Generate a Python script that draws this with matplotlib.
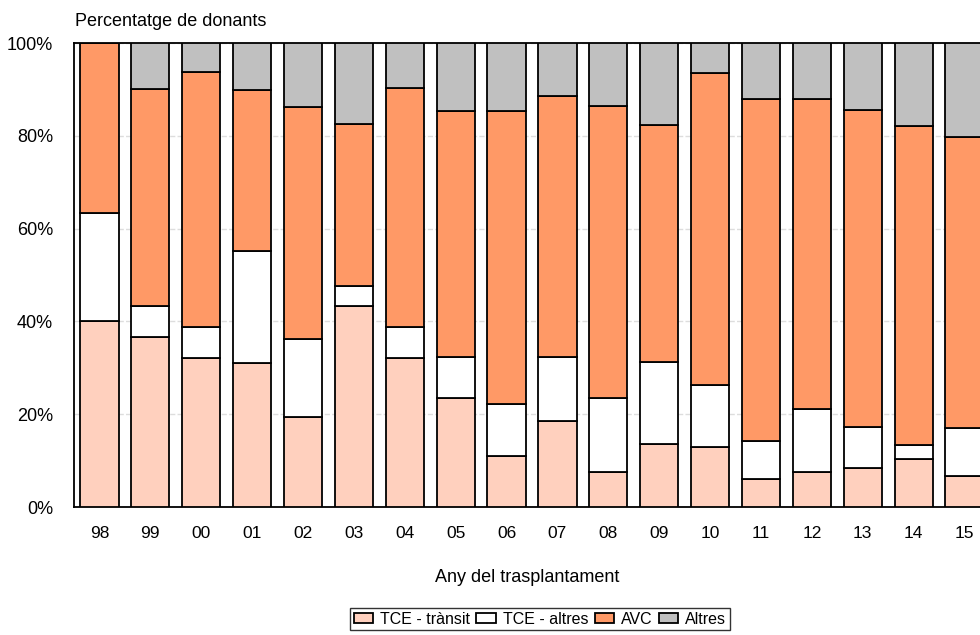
import numpy as np
import matplotlib
matplotlib.use("Agg")
import matplotlib.pyplot as plt

plt.rcParams['font.family'] = ['Liberation Sans', 'DejaVu Sans']

# Data (percentages)
years = ["98", "99", "00", "01", "02", "03", "04", "05", "06", "07", "08",
         "09", "10", "11", "12", "13", "14", "15"]
tce_transit = [40.0, 36.7, 32.1, 31.0, 19.4, 43.4, 32.1, 23.5, 11.0, 18.5, 7.6,
               13.6, 13.0, 6.0, 7.5, 8.5, 10.4, 6.7]
tce_altres = [23.4, 6.6, 6.7, 24.2, 16.7, 4.3, 6.6, 8.8, 11.2, 13.9, 15.9,
              17.7, 13.2, 8.2, 13.6, 8.8, 2.9, 10.3]
avc = [36.6, 46.7, 54.9, 34.6, 50.0, 34.9, 51.7, 53.1, 63.1, 56.1, 62.9,
       51.1, 67.3, 73.7, 66.9, 68.2, 68.9, 62.7]
altres = [0.0, 10.0, 6.3, 10.2, 13.9, 17.4, 9.6, 14.6, 14.7, 11.5, 13.6,
          17.6, 6.5, 12.1, 12.0, 14.5, 17.8, 20.3]

series = [("TCE - trànsit", tce_transit, "#FFD0BE"),
          ("TCE - altres", tce_altres, "#FFFFFF"),
          ("AVC", avc, "#FF9966"),
          ("Altres", altres, "#C0C0C0")]

fig = plt.figure(figsize=(9.8, 6.35), dpi=100)
ax = fig.add_axes([74 / 980, 128 / 635, 916 / 980, 464 / 635])

x = np.arange(len(years))
bottom = np.zeros(len(years))
for label, vals, color in series:
    vals = np.array(vals)
    ax.bar(x, vals, bottom=bottom, width=0.75, color=color,
           edgecolor="black", linewidth=1.3, label=label, zorder=3)
    bottom += vals

ax.set_xlim(-0.5, len(years) - 0.5)
ax.set_ylim(0, 100)
ax.set_yticks([0, 20, 40, 60, 80, 100])
ax.set_yticklabels(["0%", "20%", "40%", "60%", "80%", "100%"])
ax.set_xticks(x)
ax.set_xticklabels(years)
ax.tick_params(axis="both", length=0)
ax.tick_params(axis="y", pad=15, labelsize=13)
ax.tick_params(axis="x", pad=14, labelsize=12.5)

ax.yaxis.grid(True, color="#DDDDDD", linestyle="--", linewidth=1, zorder=0)
for s in ax.spines.values():
    s.set_color("black")
    s.set_linewidth(1.3)

fig.text(75 / 980, 1 - 22 / 635, "Percentatge de donants", fontsize=13,
         ha="left", va="center")
fig.text(527 / 980, 1 - 578 / 635, "Any del trasplantament", fontsize=13,
         ha="center", va="center")

leg = fig.legend(loc="center", bbox_to_anchor=(540 / 980, 1 - 619 / 635),
                 ncol=4, fontsize=11.5, frameon=True, fancybox=False,
                 edgecolor="black", handlelength=1.2, handleheight=0.65,
                 handletextpad=0.45, columnspacing=0.4, borderpad=0.25,
                 borderaxespad=0)
leg.get_frame().set_linewidth(1.0)

fig.savefig("out.png", dpi=100)
